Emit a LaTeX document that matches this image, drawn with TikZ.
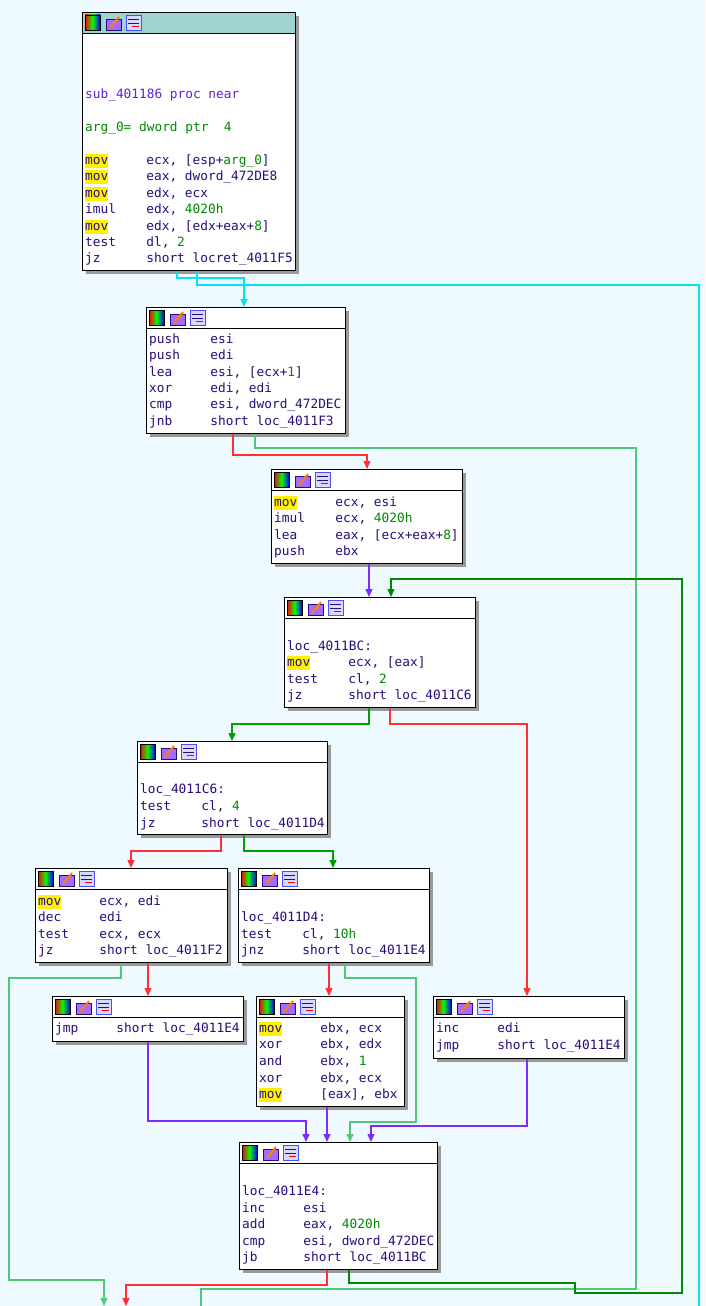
\documentclass[tikz,border=0pt]{standalone}
\usepackage{fontspec}
\setmonofont{DejaVu Sans Mono}
\usetikzlibrary{arrows.meta}
\definecolor{bg}{HTML}{EEFAFF}
\definecolor{ins}{HTML}{2A0B7A}
\definecolor{num}{HTML}{008800}
\definecolor{hdr}{HTML}{9DD3D0}
\definecolor{cy}{HTML}{00E5F0}
\definecolor{rd}{HTML}{FF3030}
\definecolor{gr}{HTML}{00A000}
\definecolor{lg}{HTML}{50C878}
\definecolor{pu}{HTML}{7B2BFF}
\definecolor{dg}{HTML}{008A00}
\newcommand{\hy}[1]{{\setlength{\fboxsep}{0pt}\colorbox{yellow}{\strut #1}}}
\newcommand{\nm}[1]{\textcolor{num}{#1}}
\tikzset{
 x=1pt,y=-1pt,
 box/.style={draw=black,fill=white,line width=0.8pt,anchor=north west,inner sep=0pt},
 tx/.style={anchor=base west,inner sep=0pt,font=\ttfamily\fontsize{12.8}{14}\selectfont,text=ins},
 e/.style={line width=1.3pt,-{Triangle[length=8pt,width=7pt]}},
 en/.style={line width=1.3pt},
}
\newcommand{\blk}[6]{% name,x,y,w,h,headerfill
 \fill[black!40] (#2+4,#3+4) rectangle ++(#4,#5);
 \node[box,minimum width=#4,minimum height=#5] (#1) at (#2,#3) {};
 \fill[#6] (#2,#3) rectangle ++(#4,21);
 \draw[line width=0.8pt] (#2,#3) rectangle ++(#4,#5);
 \draw[line width=0.8pt] (#2,#3+21) -- ++(#4,0);
 \begin{scope}[shift={(#2+3,#3+3)}]
  \shade[left color=red,right color=blue,middle color=green] (0,0) rectangle (15,15);
  \draw[black] (0,0) rectangle (15,15);
  \fill[pu!70] (21,4) rectangle (36,15); \draw[ins] (21,4) rectangle (36,15);
  \draw[orange,line width=2pt] (25,13) -- (34,2);
  \fill[blue!15] (41,0) rectangle (56,15); \draw[blue!70] (41,0) rectangle (56,15);
  \draw[ins] (43,4) -- (54,4) (43,8) -- (54,8); \draw[red] (47,11)--(54,11);
 \end{scope}}
\newcommand{\II}[4]{\node[tx] at (#1,#2) {#3}; \node[tx] at (#1+61.2,#2) {#4};}
\newcommand{\LL}[3]{\node[tx] at (#1,#2) {#3};}
\begin{document}
\begin{tikzpicture}
\useasboundingbox (0,0) rectangle (705,1306);
\fill[bg] (0,0) rectangle (705,1306);
% blocks
\blk{b1}{82}{12}{213}{258}{hdr}
\LL{85}{98}{\textcolor{pu!80!black}{sub\_401186 proc near}}
\LL{85}{131}{\textcolor{num}{arg\_0= dword ptr~~4}}
\II{85}{164}{\hy{mov}}{ecx, [esp+\nm{arg\_0}]}
\II{85}{180}{\hy{mov}}{eax, dword\_472DE8}
\II{85}{197}{\hy{mov}}{edx, ecx}
\II{85}{213}{imul}{edx, \nm{4020h}}
\II{85}{230}{\hy{mov}}{edx, [edx+eax+\nm{8}]}
\II{85}{246}{test}{dl, \nm{2}}
\II{85}{262}{jz}{short locret\_4011F5}
\blk{b2}{146}{307}{199}{126}{white}
\II{149}{343}{push}{esi}
\II{149}{359}{push}{edi}
\II{149}{376}{lea}{esi, [ecx+\nm{1}]}
\II{149}{392}{xor}{edi, edi}
\II{149}{408}{cmp}{esi, dword\_472DEC}
\II{149}{425}{jnb}{short loc\_4011F3}
\blk{b3}{271}{469}{191}{94}{white}
\II{274}{506}{\hy{mov}}{ecx, esi}
\II{274}{522}{imul}{ecx, \nm{4020h}}
\II{274}{539}{lea}{eax, [ecx+eax+\nm{8}]}
\II{274}{555}{push}{ebx}
\blk{b4}{284}{597}{191}{110}{white}
\LL{287}{650}{loc\_4011BC:}
\II{287}{666}{\hy{mov}}{ecx, [eax]}
\II{287}{683}{test}{cl, \nm{2}}
\II{287}{699}{jz}{short loc\_4011C6}
\blk{b5}{137}{741}{190}{93}{white}
\LL{140}{793}{loc\_4011C6:}
\II{140}{810}{test}{cl, \nm{4}}
\II{140}{827}{jz}{short loc\_4011D4}
\blk{b6}{35}{868}{192}{94}{white}
\II{38}{905}{\hy{mov}}{ecx, edi}
\II{38}{921}{dec}{edi}
\II{38}{938}{test}{ecx, ecx}
\II{38}{954}{jz}{short loc\_4011F2}
\blk{b7}{238}{868}{191}{94}{white}
\LL{241}{921}{loc\_4011D4:}
\II{241}{938}{test}{cl, \nm{10h}}
\II{241}{954}{jnz}{short loc\_4011E4}
\blk{b8}{52}{996}{191}{45}{white}
\II{55}{1032}{jmp}{short loc\_4011E4}
\blk{b9}{256}{996}{148}{110}{white}
\II{259}{1032}{\hy{mov}}{ebx, ecx}
\II{259}{1048}{xor}{ebx, edx}
\II{259}{1065}{and}{ebx, \nm{1}}
\II{259}{1082}{xor}{ebx, ecx}
\II{259}{1098}{\hy{mov}}{[eax], ebx}
\blk{b10}{433}{996}{191}{62}{white}
\II{436}{1032}{inc}{edi}
\II{436}{1049}{jmp}{short loc\_4011E4}
\blk{b11}{239}{1142}{198}{127}{white}
\LL{242}{1195}{loc\_4011E4:}
\II{242}{1212}{inc}{esi}
\II{242}{1228}{add}{eax, \nm{4020h}}
\II{242}{1245}{cmp}{esi, dword\_472DEC}
\II{242}{1261}{jb}{short loc\_4011BC}
% edges
\draw[e,cy] (177,0 |- b1.south) |- (244,278) -- (244,0 |- b2.north);
\draw[en,cy] (197,0 |- b1.south) |- (699,285) -- (699,1306);
\draw[e,rd] (233,0 |- b2.south) |- (367,455) -- (367,0 |- b3.north);
\draw[en,lg] (255,0 |- b2.south) |- (636,448) |- (201,1289) -- (201,1306);
\draw[e,pu] (369,0 |- b3.south) -- (369,0 |- b4.north);
\draw[e,dg] (349,0 |- b11.south) |- (575,1283) |- (682,1293) |- (391,579) -- (391,0 |- b4.north);
\draw[e,gr] (369,0 |- b4.south) |- (232,724) -- (232,0 |- b5.north);
\draw[e,rd] (390,0 |- b4.south) |- (527,724) -- (527,0 |- b10.north);
\draw[e,rd] (221,0 |- b5.south) |- (131,851) -- (131,0 |- b6.north);
\draw[e,gr] (244,0 |- b5.south) |- (333,851) -- (333,0 |- b7.north);
\draw[e,rd] (148,0 |- b6.south) -- (148,0 |- b8.north);
\draw[e,lg] (121,0 |- b6.south) |- (9,978) |- (104,1280) -- (104,1306);
\draw[e,rd] (329,0 |- b7.south) -- (329,0 |- b9.north);
\draw[e,lg] (345,0 |- b7.south) |- (416,978) |- (350,1122) -- (350,0 |- b11.north);
\draw[e,pu] (148,0 |- b8.south) |- (306,1121) -- (306,0 |- b11.north);
\draw[e,pu] (327,0 |- b9.south) -- (327,0 |- b11.north);
\draw[e,pu] (527,0 |- b10.south) |- (371,1126) -- (371,0 |- b11.north);
\draw[e,rd] (327,0 |- b11.south) |- (126,1285) -- (126,1306);
\end{tikzpicture}
\end{document}
